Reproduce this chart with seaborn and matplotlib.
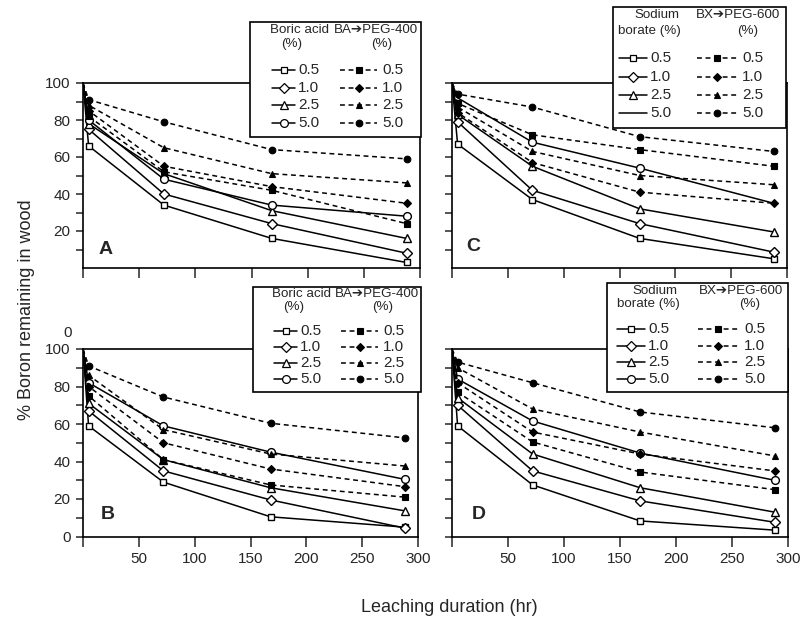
import matplotlib
matplotlib.use("Agg")
import matplotlib.pyplot as plt
import seaborn as sns
from matplotlib.lines import Line2D
from matplotlib.patches import Rectangle

# ---------------- data ----------------
TIMES = [0, 5, 72, 168, 288]
CONC = ["0.5", "1.0", "2.5", "5.0"]

# Panel A: boric acid (open) and BA -> PEG-400 (filled)
A_BA = {"0.5": [100, 66, 34, 16, 3],
        "1.0": [100, 75, 40, 24, 8],
        "2.5": [100, 78, 51, 31, 16],
        "5.0": [100, 80, 48, 34, 28]}
A_PEG = {"0.5": [100, 82, 52, 42, 24],
         "1.0": [100, 85, 55, 44, 35],
         "2.5": [100, 88, 65, 51, 46],
         "5.0": [100, 91, 79, 64, 59]}

# Panel B
B_BA = {"0.5": [100, 59, 29, 10.5, 5],
        "1.0": [100, 67, 35, 19.5, 4.5],
        "2.5": [100, 71, 41, 26, 13.7],
        "5.0": [100, 82, 59, 45, 30.5]}
B_PEG = {"0.5": [100, 75, 41, 27.5, 21],
         "1.0": [100, 80, 50, 36, 26.6],
         "2.5": [100, 86, 57, 44, 37.6],
         "5.0": [100, 91, 74.4, 60.4, 52.6]}

# Panel C: sodium borate (open) and BX -> PEG-600 (filled)
C_SB = {"0.5": [100, 67, 37, 16, 5],
        "1.0": [100, 79, 42, 24, 8.6],
        "2.5": [100, 83, 55, 32, 19.5],
        "5.0": [100, 92, 68, 54, 35]}
C_PEG = {"0.5": [100, 89, 72, 64, 55],
         "1.0": [100, 84, 57, 41, 35],
         "2.5": [100, 87, 63, 50, 45],
         "5.0": [100, 94, 87, 71, 63]}

# Panel D
D_SB = {"0.5": [100, 59, 27.5, 8.3, 3.4],
        "1.0": [100, 70, 35, 19, 7.6],
        "2.5": [100, 74, 44, 26, 13],
        "5.0": [100, 84, 61.6, 44.5, 30]}
D_PEG = {"0.5": [100, 77, 50.4, 34.4, 25],
         "1.0": [100, 82, 55.7, 44, 35],
         "2.5": [100, 90, 68, 55.7, 43],
         "5.0": [100, 93, 82, 66.4, 58]}

X_TICKS = [0, 50, 100, 150, 200, 250, 300]
X_TICK_LABELS = ["", "50", "100", "150", "200", "250", "300"]
Y_TICKS_A = [20, 40, 60, 80, 100]
Y_TICKS_B = [0, 20, 40, 60, 80, 100]

# ---------------- style ----------------
sns.set_theme(style="ticks")
plt.rcParams["font.family"] = ["Liberation Sans", "DejaVu Sans"]
plt.rcParams["axes.linewidth"] = 1.2

OPEN_M = {"0.5": ("s", 5.0), "1.0": ("D", 4.8), "2.5": ("^", 6.0), "5.0": ("o", 5.6)}
FILL_M = {"0.5": ("s", 3.8), "1.0": ("D", 4.0), "2.5": ("^", 4.8), "5.0": ("o", 4.8)}
DASH = (0, (3.2, 2.4))
ARROW = "\u2794"

FW, FH = 807, 620
fig = plt.figure(figsize=(FW / 100, FH / 100), dpi=100)


def fx(x):
    return x / FW


def fy(y):
    return 1 - y / FH


def make_ax(l, t, r, b):
    return fig.add_axes([fx(l), fy(b), fx(r) - fx(l), fy(t) - fy(b)])


axA = make_ax(83, 83, 420, 268)
axB = make_ax(83, 349, 418, 536.5)
axC = make_ax(452, 83, 787, 268)
axD = make_ax(452, 349, 788, 536.5)


def draw_series(ax, solid, dashed, solid_last_every=None):
    for c in CONC:
        m, s = OPEN_M[c]
        every = [1, 2, 3, 4]
        if c == "5.0" and solid_last_every is not None:
            every = solid_last_every
        sns.lineplot(x=TIMES, y=solid[c], ax=ax, color="black", linewidth=1.1,
                     marker=m, markersize=s, markerfacecolor="white",
                     markeredgecolor="black", markeredgewidth=1.0,
                     markevery=every, estimator=None, sort=False, legend=False)
    for c in CONC:
        m, s = FILL_M[c]
        sns.lineplot(x=TIMES, y=dashed[c], ax=ax, color="black", linewidth=1.1,
                     linestyle=DASH, marker=m, markersize=s,
                     markerfacecolor="black", markeredgecolor="black",
                     markeredgewidth=0.8, markevery=[1, 2, 3, 4],
                     estimator=None, sort=False, legend=False)


def setup_ax(ax, xlabels, yticks, ylabels):
    ax.set_xlim(0, 300)
    ax.set_ylim(0, 100)
    ax.set_xticks(X_TICKS)
    ax.set_xticklabels(X_TICK_LABELS if xlabels else [])
    ax.set_yticks(yticks)
    ax.set_yticklabels([str(v) for v in yticks] if ylabels else [])
    ax.set_yticks([10, 30, 50, 70, 90], minor=True)
    ax.tick_params(axis="x", direction="out", length=7, width=1.1, labelsize=11, pad=4)
    ax.tick_params(axis="y", which="major", direction="out", length=5, width=1.1,
                   labelsize=11, pad=4)
    ax.tick_params(axis="y", which="minor", direction="out", length=5, width=1.1)
    ax.set_xlabel("")
    ax.set_ylabel("")
    for sp in ax.spines.values():
        sp.set_visible(True)
        sp.set_color("black")
        sp.set_linewidth(1.2)
    ax.set_facecolor("white")


draw_series(axA, A_BA, A_PEG)
draw_series(axB, B_BA, B_PEG)
draw_series(axC, C_SB, C_PEG, solid_last_every=[2, 3])
draw_series(axD, D_SB, D_PEG)

setup_ax(axA, False, Y_TICKS_A, True)
setup_ax(axB, True, Y_TICKS_B, True)
setup_ax(axC, False, Y_TICKS_A, False)
setup_ax(axD, True, Y_TICKS_B, False)

for ax, letter, (px, py) in [(axA, "A", (0.068, 0.10)), (axB, "B", (0.074, 0.115)),
                             (axC, "C", (0.063, 0.114)), (axD, "D", (0.080, 0.115))]:
    ax.text(px, py, letter, transform=ax.transAxes, ha="center", va="center",
            fontsize=14, fontweight="bold")

# ---------------- table-style legends ----------------
ROW_F = [0.07, 0.195, 0.42, 0.575, 0.725, 0.88]


def table_legend(box, heads, col1, col2, plain_last=False):
    l, t, r, b = box
    fig.add_artist(Rectangle((fx(l), fy(b)), fx(r) - fx(l), fy(t) - fy(b),
                             transform=fig.transFigure, facecolor="white",
                             edgecolor="black", linewidth=1.2, zorder=5))
    hh = b - t
    ys = [t + f * hh for f in ROW_F]
    (h1, x1), (h2, x2), (h3, x3), (h4, x4) = heads
    for txt, x, y in [(h1, x1, ys[0]), (h2, x2, ys[1]), (h3, x3, ys[0]), (h4, x4, ys[1])]:
        fig.text(fx(x), fy(y), txt, ha="center", va="center", fontsize=9.6, zorder=6)
    for i, c in enumerate(CONC):
        y = fy(ys[2 + i])
        for (hx0, hx1, lx), filled in [(col1, False), (col2, True)]:
            m, s = (FILL_M if filled else OPEN_M)[c]
            if plain_last and not filled and c == "5.0":
                m = "None"
            line = Line2D([fx(hx0), fx((hx0 + hx1) / 2), fx(hx1)], [y, y, y],
                          transform=fig.transFigure, color="black", linewidth=1.1,
                          linestyle=DASH if filled else "-", marker=m, markersize=s,
                          markerfacecolor="black" if filled else "white",
                          markeredgecolor="black", markeredgewidth=0.9 if not filled else 0.8,
                          markevery=[1], zorder=6)
            fig.add_artist(line)
            fig.text(fx(lx), y, c, ha="left", va="center", fontsize=11, zorder=6)


table_legend((250, 22, 421, 137),
             [("Boric acid", 300), ("(%)", 292), ("BA" + ARROW + "PEG-400", 376), ("(%)", 382)],
             (272, 295, 298), (340, 377, 382))
table_legend((253, 287, 421, 392),
             [("Boric acid", 302), ("(%)", 294), ("BA" + ARROW + "PEG-400", 377), ("(%)", 383)],
             (274, 297, 300), (341, 378, 383))
table_legend((613, 7, 786, 128),
             [("Sodium", 657), ("borate (%)", 649), ("BX" + ARROW + "PEG-600", 738), ("(%)", 748)],
             (619, 647, 650), (697, 737, 742), plain_last=True)
table_legend((607, 283, 788, 392),
             [("Sodium", 655), ("borate (%)", 648), ("BX" + ARROW + "PEG-600", 741), ("(%)", 750)],
             (617, 645, 648), (698, 738, 744))

# ---------------- shared labels ----------------
fig.text(fx(27), fy(310), "% Boron remaining in wood", rotation=90,
         ha="center", va="center", fontsize=13)
fig.text(fx(449), fy(607), "Leaching duration (hr)", ha="center", va="center",
         fontsize=13)
fig.text(fx(68), fy(333), "0", ha="center", va="center", fontsize=11)

fig.savefig("out.png", dpi=100, facecolor="white")
